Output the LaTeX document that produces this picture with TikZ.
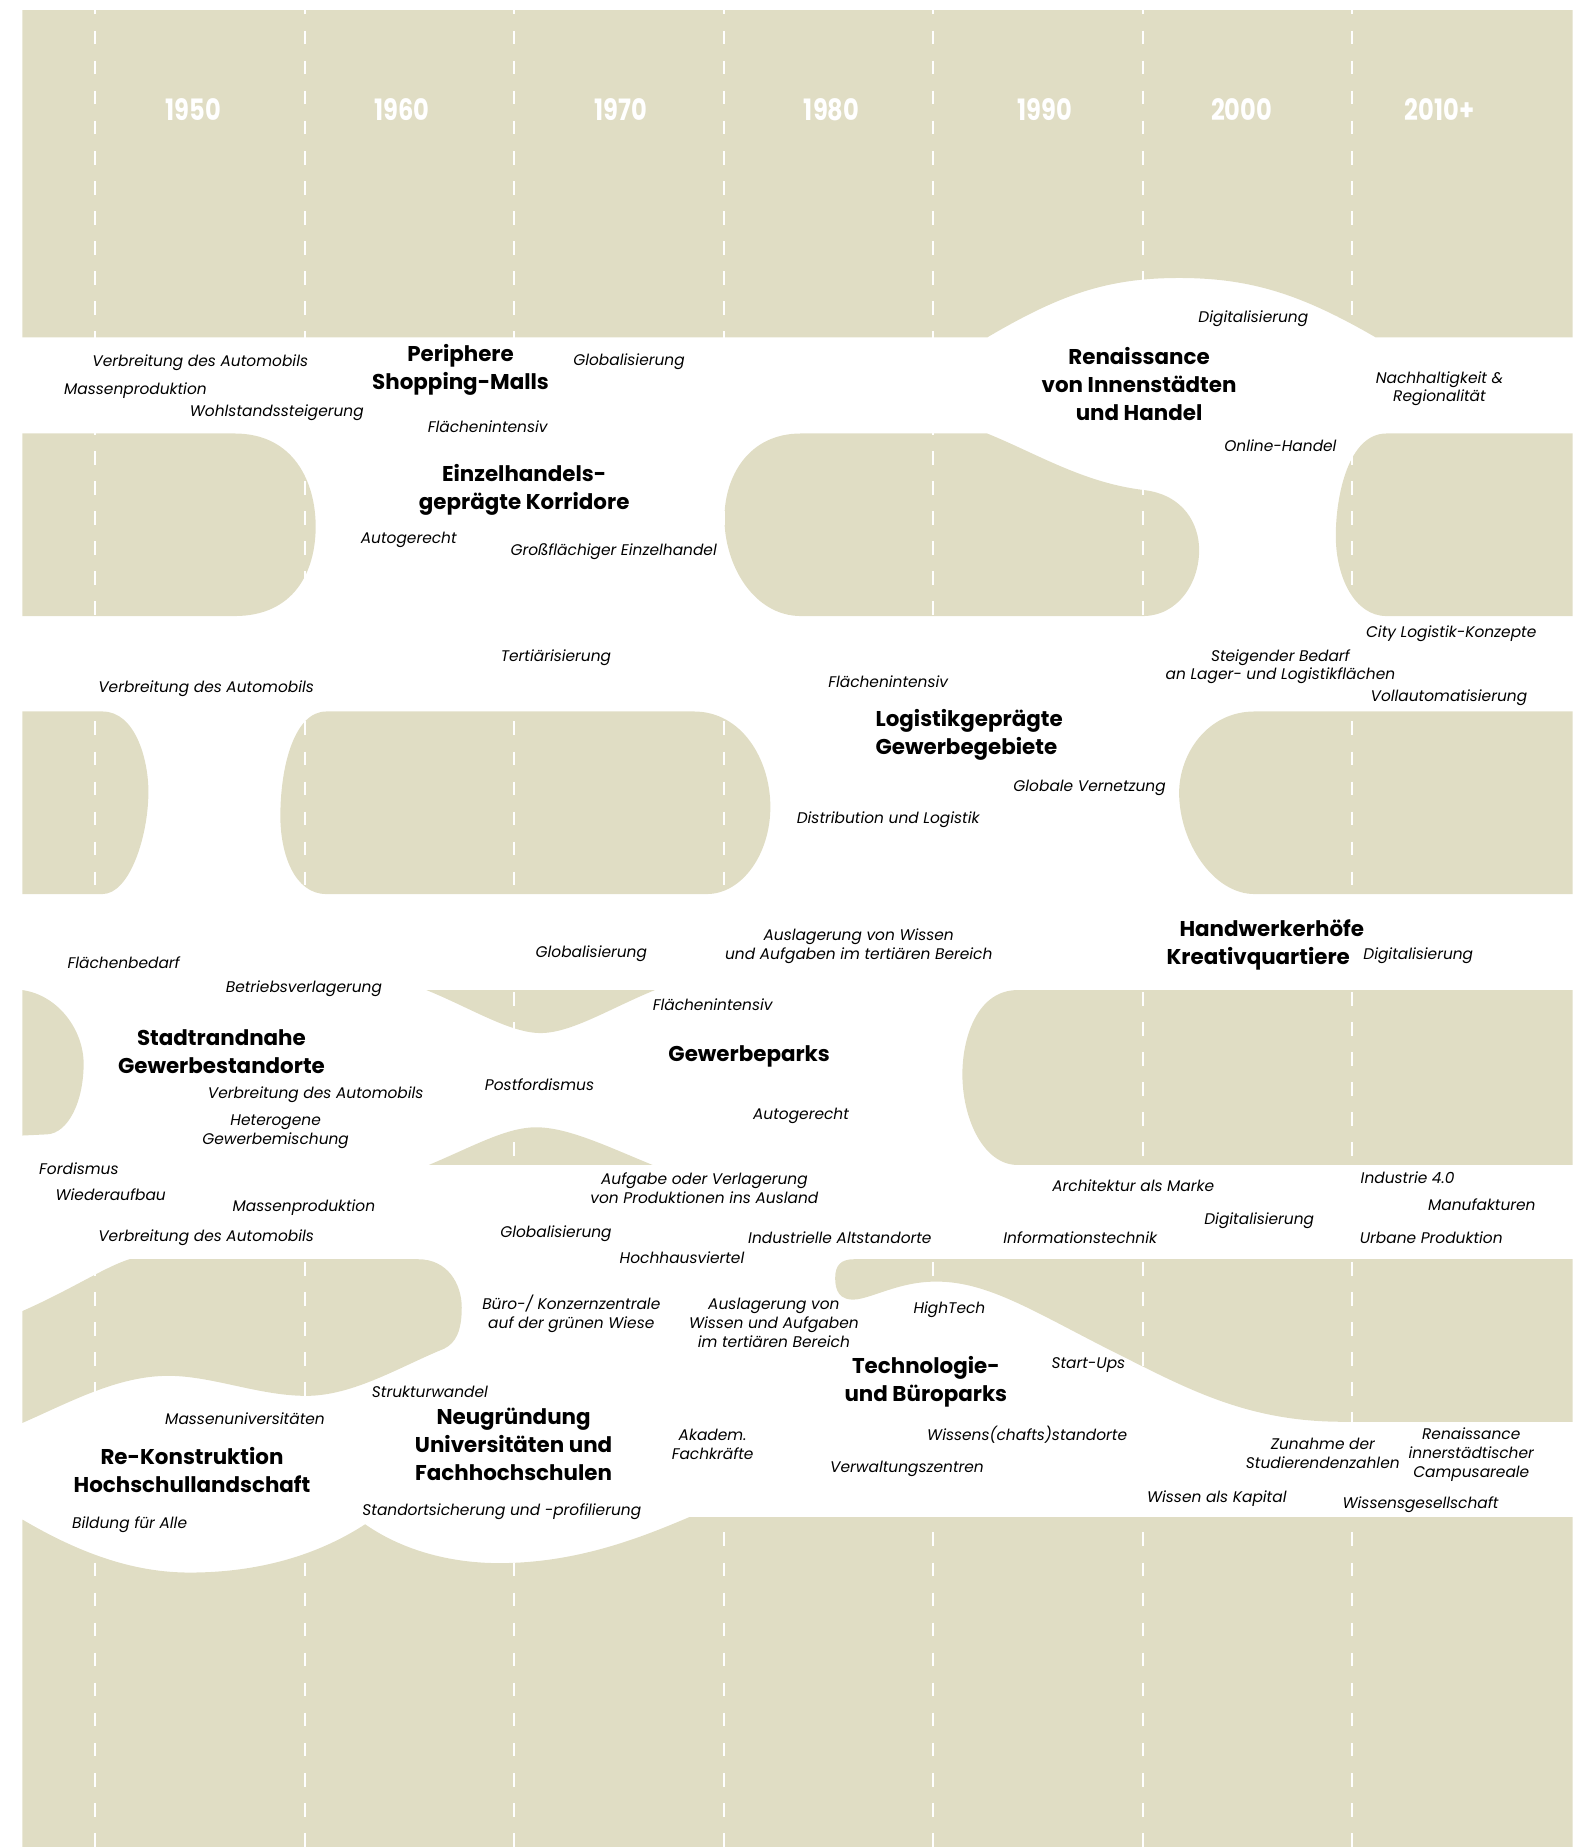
\documentclass[tikz,border=0pt]{standalone}
\usepackage{fontspec}
\setmainfont{Poppins}
\newfontfamily\yearfont[FakeStretch=0.82]{Poppins}
\usepackage{tikz}
\definecolor{sand}{HTML}{E0DDC4}
\def\decadesep{177.8}

\begin{document}
\begin{tikzpicture}[x=0.6pt,y=-0.6pt]
    \tikzstyle{sandblock}=[fill=sand,draw=none]
    \tikzstyle{decade}=[draw=white,line width=1.1pt,dash pattern=on 7pt off 8.3pt]
    \tikzstyle{yearlabel}=[text=white,font=\yearfont\bfseries\fontsize{15}{17}\selectfont,inner sep=0pt]
    \tikzstyle{keyword}=[font=\itshape\fontsize{7.85}{9.6}\selectfont,align=center,inner sep=0pt]
    \tikzstyle{topic}=[font=\bfseries\fontsize{10.9}{14.4}\selectfont,align=center,inner sep=0pt]

    \useasboundingbox (0,0) rectangle (1335,1568);

    % Top band with the hill of the inner cities
    \path[sandblock] (19,8.5) -- (1335,8.5) -- (1335,286.5) -- (1168,286.5)
        .. controls (1105,250) and (1062,236) .. (1001,236)
        .. controls (940,236) and (900,250) .. (838,286.5) -- (19,286.5) -- cycle;

    % Second row of blocks
    \path[sandblock] (19,368) -- (199,368) .. controls (250,368) and (268,410) .. (268,447)
        .. controls (268,485) and (250,523) .. (199,523) -- (19,523) -- cycle;
    \path[sandblock] (680,368) -- (838,368) .. controls (880,385) and (920,410) .. (971,416)
        .. controls (1005,420) and (1018,445) .. (1018,467)
        .. controls (1018,495) and (1000,523) .. (970,523) -- (680,523)
        .. controls (640,523) and (615,480) .. (615,440)
        .. controls (615,405) and (635,368) .. (680,368) -- cycle;
    \path[sandblock] (1335,368) -- (1177,368) .. controls (1145,368) and (1134,420) .. (1134,455)
        .. controls (1134,490) and (1150,523) .. (1177,523) -- (1335,523) -- cycle;

    % Third row of blocks
    \path[sandblock] (19,604) -- (87,604) .. controls (115,604) and (126,645) .. (126,672)
        .. controls (126,710) and (110,759) .. (87,759) -- (19,759) -- cycle;
    \path[sandblock] (277,604) -- (589,604) .. controls (630,604) and (654,645) .. (654,685)
        .. controls (654,725) and (630,759) .. (600,759) -- (277,759)
        .. controls (250,759) and (238,725) .. (238,693)
        .. controls (238,650) and (250,604) .. (277,604) -- cycle;
    \path[sandblock] (1335,604) -- (1065,604) .. controls (1025,604) and (1001,640) .. (1001,673)
        .. controls (1001,715) and (1030,759) .. (1065,759) -- (1335,759) -- cycle;

    % Fourth row of blocks
    \path[sandblock] (19,840.5) .. controls (50,845) and (71,875) .. (71,903)
        .. controls (71,935) and (58,962) .. (40,963) -- (19,964) -- cycle;
    \path[sandblock] (362,840.5) -- (556,840.5) .. controls (518,856) and (485,877) .. (459,877)
        .. controls (433,877) and (400,856) .. (362,840.5) -- cycle;
    \path[sandblock] (364,989) .. controls (402,973) and (430,957) .. (455,957)
        .. controls (482,957) and (515,973) .. (554,989) -- cycle;
    \path[sandblock] (1335,840.5) -- (864,840.5) .. controls (830,840.5) and (817,880) .. (817,912)
        .. controls (817,950) and (835,989) .. (864,989) -- (1335,989) -- cycle;

    % Fifth row of blocks
    \path[sandblock] (19,1113) .. controls (60,1095) and (90,1075) .. (110,1069) -- (355,1069)
        .. controls (380,1069) and (392,1090) .. (392,1110)
        .. controls (392,1130) and (387,1140) .. (377,1145)
        .. controls (340,1160) and (300,1185) .. (260,1185)
        .. controls (220,1185) and (180,1168) .. (143,1168)
        .. controls (100,1168) and (60,1190) .. (19,1208) -- cycle;
    \path[sandblock] (725,1069) -- (1335,1069) -- (1335,1207) -- (1140,1207)
        .. controls (1060,1207) and (1010,1180) .. (950,1150)
        .. controls (880,1115) and (840,1088) .. (795,1088)
        .. controls (765,1088) and (745,1100) .. (728,1103)
        .. controls (712,1105) and (709,1095) .. (709,1085)
        .. controls (709,1074) and (714,1069) .. (725,1069) -- cycle;

    % Bottom band with the two university waves
    \path[sandblock] (19,1568) -- (19,1290) .. controls (70,1320) and (115,1335) .. (161,1335)
        .. controls (220,1335) and (270,1320) .. (310,1294)
        .. controls (340,1315) and (380,1327) .. (424,1327)
        .. controls (490,1327) and (545,1305) .. (585,1288) -- (1335,1288) -- (1335,1568) -- cycle;

    % Decade separators and year labels
    \foreach \i in {0,...,6}
        \draw[decade] (81+\i*\decadesep,0.5) -- (81+\i*\decadesep,1568);
    \foreach \yr/\x [count=\i] in {1950/164,1960/341,1970/527,1980/706,1990/887,2000/1054,2010+/1222}
        \node[yearlabel] (Y-\i) at (\x,93) {\yr};

    % Retail
    \node[topic] (malls) at (391,314) {Periphere\\Shopping-Malls};
    \node[keyword] (k-auto1) at (170,308) {Verbreitung des Automobils};
    \node[keyword] (k-masse1) at (115,332) {Massenproduktion};
    \node[keyword] (k-wohl) at (235,350) {Wohlstandssteigerung};
    \node[keyword] (k-flint1) at (414,362) {Flächenintensiv};
    \node[keyword] (k-glob1) at (534,307) {Globalisierung};
    \node[keyword] (k-digi1) at (1064,271) {Digitalisierung};
    \node[topic] (innenstadt) at (967,326) {Renaissance\\von Innenstädten\\und Handel};
    \node[keyword] (k-nachhalt) at (1222,330) {Nachhaltigkeit \&\\Regionalität};
    \node[keyword] (k-online) at (1087,378) {Online-Handel};
    \node[topic] (korridore) at (445,416) {Einzelhandels-\\geprägte Korridore};
    \node[keyword] (k-autog1) at (347,458) {Autogerecht};
    \node[keyword] (k-gross) at (521,468) {Großflächiger Einzelhandel};

    % Logistics
    \node[keyword] (k-tert) at (472,558) {Tertiärisierung};
    \node[keyword] (k-auto2) at (175,585) {Verbreitung des Automobils};
    \node[keyword] (k-flint2) at (754,579) {Flächenintensiv};
    \node[keyword] (k-city) at (1232,538) {City Logistik-Konzepte};
    \node[keyword] (k-bedarf) at (1087,566) {Steigender Bedarf\\an Lager- und Logistikflächen};
    \node[keyword] (k-vollauto) at (1230,592) {Vollautomatisierung};
    \node[topic,align=left,anchor=west] (logistik) at (743,624) {Logistikgeprägte\\Gewerbegebiete};
    \node[keyword] (k-vernetz) at (925,669) {Globale Vernetzung};
    \node[keyword] (k-distri) at (754,696) {Distribution und Logistik};

    % Commercial areas
    \node[keyword] (k-ausl1) at (729,803) {Auslagerung von Wissen\\und Aufgaben im tertiären Bereich};
    \node[keyword] (k-glob2) at (502,810) {Globalisierung};
    \node[keyword] (k-flbed) at (105,817) {Flächenbedarf};
    \node[keyword] (k-betrieb) at (258,839) {Betriebsverlagerung};
    \node[topic,align=left,anchor=west] (handwerk) at (990,802) {\hspace*{6.6pt}Handwerkerhöfe\\Kreativquartiere};
    \node[keyword] (k-digi2) at (1204,811) {Digitalisierung};
    \node[keyword] (k-flint3) at (605,853) {Flächenintensiv};
    \node[topic] (stadtrand) at (188,893) {Stadtrandnahe\\Gewerbestandorte};
    \node[keyword] (k-auto3) at (268,929) {Verbreitung des Automobils};
    \node[keyword] (k-hetero) at (234,961) {Heterogene\\Gewerbemischung};
    \node[keyword] (k-postf) at (458,921) {Postfordismus};
    \node[topic] (gewparks) at (636,897) {Gewerbeparks};
    \node[keyword] (k-autog2) at (680,947) {Autogerecht};
    \node[keyword] (k-fordis) at (67,992) {Fordismus};
    \node[keyword] (k-wieder) at (94,1014) {Wiederaufbau};
    \node[keyword] (k-masse2) at (258,1025) {Massenproduktion};
    \node[keyword] (k-auto4) at (175,1051) {Verbreitung des Automobils};
    \node[keyword] (k-aufgabe) at (598,1009) {Aufgabe oder Verlagerung\\von Produktionen ins Ausland};
    \node[keyword] (k-glob3) at (472,1047) {Globalisierung};
    \node[keyword] (k-hochhaus) at (579,1068) {Hochhausviertel};
    \node[keyword] (k-altst) at (713,1051) {Industrielle Altstandorte};
    \node[keyword] (k-archi) at (962,1007) {Architektur als Marke};
    \node[keyword] (k-info) at (917,1051) {Informationstechnik};
    \node[keyword] (k-digi3) at (1069,1036) {Digitalisierung};
    \node[keyword] (k-ind40) at (1195,1000) {Industrie 4.0};
    \node[keyword] (k-manu) at (1258,1023) {Manufakturen};
    \node[keyword] (k-urban) at (1215,1051) {Urbane Produktion};

    % Knowledge and universities
    \node[keyword] (k-buero) at (485,1115) {Büro-/ Konzernzentrale\\auf der grünen Wiese};
    \node[keyword] (k-ausl2) at (657,1123) {Auslagerung von\\Wissen und Aufgaben\\im tertiären Bereich};
    \node[keyword] (k-hightech) at (806,1112) {HighTech};
    \node[keyword] (k-startup) at (924,1159) {Start-Ups};
    \node[topic] (techparks) at (786,1173) {Technologie-\\und Büroparks};
    \node[keyword] (k-struktur) at (365,1182) {Strukturwandel};
    \node[keyword] (k-massuni) at (208,1204) {Massenuniversitäten};
    \node[topic] (rekonstr) at (163,1248) {Re-Konstruktion\\Hochschullandschaft};
    \node[keyword] (k-bildung) at (110,1294) {Bildung für Alle};
    \node[topic] (neugruend) at (436,1226) {Neugründung\\Universitäten und\\Fachhochschulen};
    \node[keyword] (k-standort) at (426,1283) {Standortsicherung und -profilierung};
    \node[keyword] (k-akadem) at (605,1226) {Akadem.\\Fachkräfte};
    \node[keyword] (k-wissst) at (872,1218) {Wissens(chafts)standorte};
    \node[keyword] (k-verwalt) at (770,1247) {Verwaltungszentren};
    \node[keyword] (k-zunahme) at (1123,1234) {Zunahme der\\Studierendenzahlen};
    \node[keyword] (k-campus) at (1249,1235) {Renaissance\\innerstädtischer\\Campusareale};
    \node[keyword] (k-kapital) at (1033,1272) {Wissen als Kapital};
    \node[keyword] (k-wges) at (1206,1277) {Wissensgesellschaft};
\end{tikzpicture}
\end{document}
